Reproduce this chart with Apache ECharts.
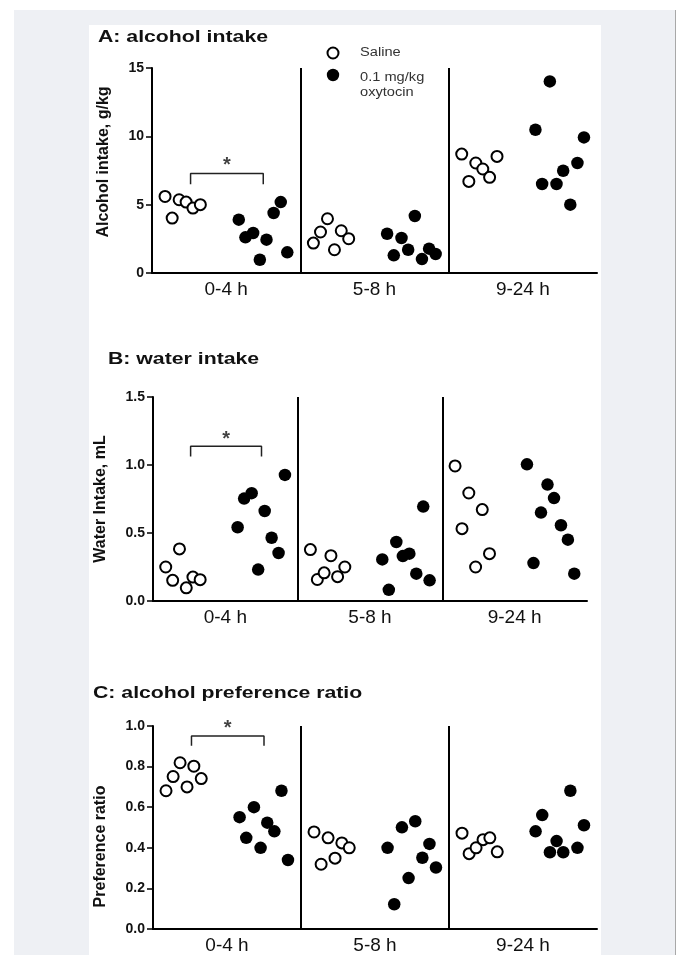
<!DOCTYPE html>
<html>
<head>
<meta charset="utf-8">
<script src="https://cdn.jsdelivr.net/npm/echarts@6/dist/echarts.min.js"></script>
<style>
  html, body { margin: 0; padding: 0; background: #fff; }
  #bg { position: absolute; left: 14px; top: 10px; width: 661px; height: 945px; background: #eef0f4; border-right: 1px solid #a8a8a8; }
  #panel { position: absolute; left: 89px; top: 25px; width: 512px; height: 930px; background: #fff; }
  #chart { position: absolute; left: 0; top: 0; width: 678px; height: 955px; }
</style>
</head>
<body>
<div id="bg"></div>
<div id="panel"></div>
<div id="chart"></div>
<script>
var periods = ['0-4 h', '5-8 h', '9-24 h'];
// where the dots sit inside each period (axis units, one period = 1)
var salineSpread = [0.088, 0.136, 0.183, 0.23, 0.276, 0.326];
var oxySpread = [0.585, 0.63, 0.682, 0.727, 0.772, 0.82, 0.868, 0.912];

// A: alcohol intake, g/kg
var alcSaline = [
  [5.60, 4.02, 5.36, 5.19, 4.75, 5.00],
  [2.19, 3.00, 3.97, 1.70, 3.09, 2.51],
  [8.70, 6.70, 8.05, 7.61, 7.00, 8.53]
];
var alcOxy = [
  [3.90, 2.61, 2.93, 0.97, 2.44, 4.39, 5.19, 1.51],
  [2.87, 1.29, 2.56, 1.70, 4.17, 1.02, 1.78, 1.39],
  [10.48, 6.51, 14.02, 6.51, 7.48, 5.00, 8.05, 9.92]
];
// B: water intake, mL
var waterSaline = [
  [0.25, 0.152, 0.383, 0.097, 0.176, 0.157],
  [0.378, 0.158, 0.207, 0.333, 0.179, 0.25],
  [0.993, 0.532, 0.794, 0.25, 0.672, 0.348]
];
var waterOxy = [
  [0.542, 0.753, 0.793, 0.231, 0.662, 0.465, 0.353, 0.927],
  [0.306, 0.082, 0.434, 0.33, 0.348, 0.201, 0.694, 0.152],
  [1.005, 0.279, 0.65, 0.856, 0.757, 0.557, 0.451, 0.201]
];
// C: preference ratio
var prefSaline = [
  [0.681, 0.751, 0.819, 0.70, 0.802, 0.741],
  [0.478, 0.319, 0.449, 0.349, 0.424, 0.40],
  [0.472, 0.371, 0.40, 0.44, 0.449, 0.38]
];
var prefOxy = [
  [0.551, 0.449, 0.60, 0.40, 0.524, 0.481, 0.681, 0.34],
  [0.40, 0.122, 0.501, 0.251, 0.531, 0.351, 0.419, 0.303],
  [0.481, 0.561, 0.378, 0.433, 0.378, 0.681, 0.40, 0.511]
];

var ticksA = ['0', '5', '10', '15'];
var ticksB = ['0.0', '0.5', '1.0', '1.5'];
var ticksC = ['0.0', '0.2', '0.4', '0.6', '0.8', '1.0'];

// significance bracket: [x from, x to, bracket foot, bracket top, star]
var sigA = [0.26, 0.75, 6.5, 7.28, 7.85];
var sigB = [0.26, 0.75, 1.063, 1.137, 1.19];
var sigC = [0.26, 0.75, 0.903, 0.951, 0.99];

var font = '"Liberation Sans", Arial, sans-serif';

var panels = [
  { title: 'A: alcohol intake', tx: 98, ty: 29, saline: alcSaline, oxy: alcOxy, max: 15, step: 5, ticks: ticksA,
    yName: 'Alcohol intake, g/kg', gap: 40, pad: [0, 0, 0, 17], sig: sigA,
    grid: { left: 152, top: 68, width: 445, height: 205 } },
  { title: 'B: water intake', tx: 108, ty: 351, saline: waterSaline, oxy: waterOxy, max: 1.5, step: 0.5, ticks: ticksB,
    yName: 'Water Intake, mL', gap: 44, pad: [0, 0, 0, 0], sig: sigB,
    grid: { left: 153, top: 397, width: 434, height: 204 } },
  { title: 'C: alcohol preference ratio', tx: 93, ty: 685, saline: prefSaline, oxy: prefOxy, max: 1.0, step: 0.2, ticks: ticksC,
    yName: 'Preference ratio', gap: 44, pad: [0, 38, 0, 0], sig: sigC,
    grid: { left: 153, top: 726, width: 444, height: 206 } }
];

function points(groups, spread) {
  var out = [];
  groups.forEach(function (vals, g) {
    vals.forEach(function (v, i) { out.push([g + spread[i], v]); });
  });
  return out;
}

var grids = [], xAxes = [], yAxes = [], series = [], graphic = [];

panels.forEach(function (p, k) {
  grids.push(p.grid);
  xAxes.push({
    type: 'value', gridIndex: k, min: 0, max: 3, interval: 0.5,
    axisLine: { show: true, onZero: false, lineStyle: { color: '#000', width: 2 } },
    axisTick: { show: false },
    splitLine: { show: false },
    axisLabel: {
      margin: 7, fontFamily: font, fontSize: 19, color: '#111',
      formatter: function (v) {
        var g = Math.floor(v);
        return Math.abs(v - g - 0.5) < 1e-6 ? periods[g] : '';
      }
    }
  });
  yAxes.push({
    type: 'value', gridIndex: k, min: 0, max: p.max, interval: p.step,
    name: p.yName, nameLocation: 'middle', nameGap: p.gap,
    nameTextStyle: { fontFamily: font, fontWeight: 'bold', fontSize: 16, color: '#111', padding: p.pad },
    axisLine: { show: true, lineStyle: { color: '#000', width: 2 } },
    axisTick: { show: true, length: 6, lineStyle: { color: '#000', width: 1.5 } },
    splitLine: { show: false },
    axisLabel: {
      margin: 8, fontFamily: font, fontWeight: 'bold', fontSize: 14, color: '#111',
      formatter: function (v) { return p.ticks[Math.round(v / p.step)]; }
    }
  });

  series.push({
    name: 'Saline', type: 'scatter', xAxisIndex: k, yAxisIndex: k, z: 3,
    symbol: 'circle', symbolSize: 11,
    itemStyle: { color: '#fff', borderColor: '#000', borderWidth: 2, opacity: 1 },
    data: points(p.saline, salineSpread),
    markLine: {
      silent: true, symbol: 'none', animation: false,
      label: { show: false },
      lineStyle: { color: '#000', width: 2, type: 'solid' },
      data: [{ xAxis: 1 }, { xAxis: 2 }]
    }
  });
  series.push({
    name: '0.1 mg/kg oxytocin', type: 'scatter', xAxisIndex: k, yAxisIndex: k, z: 3,
    symbol: 'circle', symbolSize: 12.5,
    itemStyle: { color: '#000', opacity: 1 },
    data: points(p.oxy, oxySpread)
  });
  var s = p.sig;
  series.push({
    type: 'line', xAxisIndex: k, yAxisIndex: k, clip: false, silent: true,
    symbol: 'none', lineStyle: { color: '#222', width: 1.5 },
    data: [[s[0], s[2]], [s[0], s[3]], [s[1], s[3]], [s[1], s[2]]]
  });
  series.push({
    type: 'scatter', xAxisIndex: k, yAxisIndex: k, clip: false, silent: true,
    symbolSize: 1, itemStyle: { color: 'rgba(0,0,0,0)' },
    label: { show: true, position: 'inside', formatter: '*', fontFamily: font, fontWeight: 'bold', fontSize: 20, color: '#111' },
    data: [[(s[0] + s[1]) / 2, s[4]]]
  });

  graphic.push({
    type: 'text', x: p.tx, y: p.ty, scaleX: 1.25,
    style: { text: p.title, font: 'bold 17px ' + font, fill: '#111', textVerticalAlign: 'top' }
  });
});

// legend key
graphic.push(
  { type: 'circle', shape: { cx: 333, cy: 53, r: 5.5 }, style: { fill: '#fff', stroke: '#000', lineWidth: 2 } },
  { type: 'circle', shape: { cx: 333, cy: 75, r: 6.2 }, style: { fill: '#000' } },
  { type: 'text', x: 360, y: 53, scaleX: 1.22, style: { text: 'Saline', font: '12px ' + font, fill: '#333', textVerticalAlign: 'middle' } },
  { type: 'text', x: 360, y: 78, scaleX: 1.22, style: { text: '0.1 mg/kg', font: '12px ' + font, fill: '#333', textVerticalAlign: 'middle' } },
  { type: 'text', x: 360, y: 93, scaleX: 1.22, style: { text: 'oxytocin', font: '12px ' + font, fill: '#333', textVerticalAlign: 'middle' } }
);

var myChart = echarts.init(document.getElementById('chart'));
myChart.setOption({
  animation: false,
  grid: grids,
  xAxis: xAxes,
  yAxis: yAxes,
  series: series,
  graphic: graphic
});
</script>
</body>
</html>
